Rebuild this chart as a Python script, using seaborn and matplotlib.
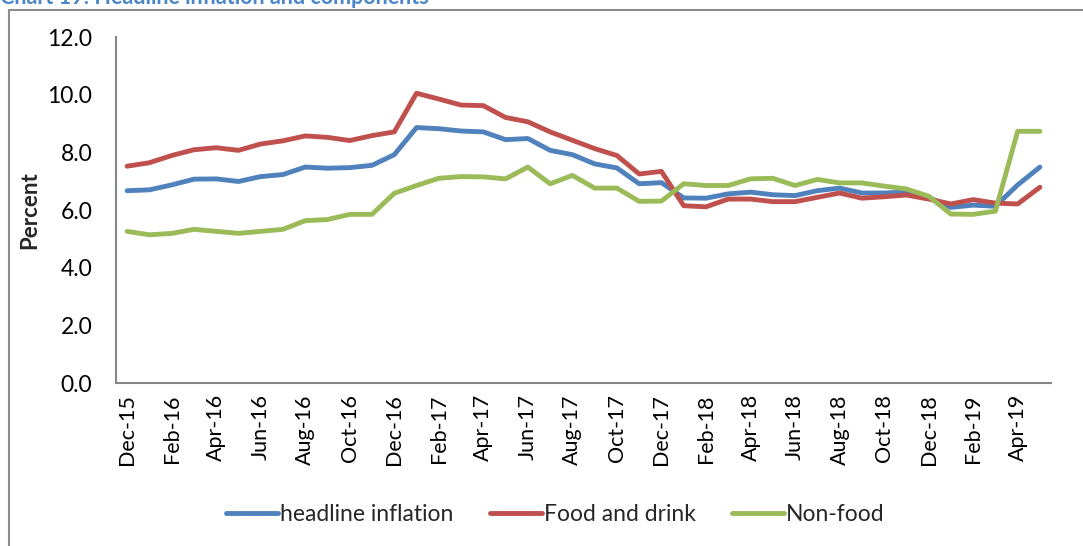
import matplotlib
matplotlib.use("Agg")
import matplotlib.pyplot as plt
import seaborn as sns
import pandas as pd
from matplotlib.patches import Rectangle

months = ["Dec-15", "Jan-16", "Feb-16", "Mar-16", "Apr-16", "May-16", "Jun-16", "Jul-16",
          "Aug-16", "Sep-16", "Oct-16", "Nov-16", "Dec-16", "Jan-17", "Feb-17", "Mar-17",
          "Apr-17", "May-17", "Jun-17", "Jul-17", "Aug-17", "Sep-17", "Oct-17", "Nov-17",
          "Dec-17", "Jan-18", "Feb-18", "Mar-18", "Apr-18", "May-18", "Jun-18", "Jul-18",
          "Aug-18", "Sep-18", "Oct-18", "Nov-18", "Dec-18", "Jan-19", "Feb-19", "Mar-19",
          "Apr-19", "May-19"]

headline = [6.67, 6.70, 6.87, 7.07, 7.08, 6.99, 7.16, 7.23, 7.49, 7.45, 7.47, 7.55,
            7.92, 8.86, 8.82, 8.74, 8.71, 8.44, 8.48, 8.07, 7.92, 7.60, 7.46, 6.91,
            6.95, 6.42, 6.41, 6.56, 6.62, 6.53, 6.50, 6.67, 6.76, 6.59, 6.59, 6.62,
            6.44, 6.09, 6.17, 6.13, 6.87, 7.49]
food = [7.52, 7.64, 7.89, 8.09, 8.16, 8.07, 8.29, 8.40, 8.57, 8.52, 8.41, 8.58,
        8.71, 10.05, 9.85, 9.64, 9.62, 9.21, 9.06, 8.71, 8.42, 8.13, 7.89, 7.25,
        7.34, 6.15, 6.11, 6.38, 6.38, 6.29, 6.29, 6.44, 6.59, 6.41, 6.46, 6.52,
        6.38, 6.21, 6.36, 6.24, 6.21, 6.79]
nonfood = [5.26, 5.14, 5.19, 5.33, 5.26, 5.19, 5.26, 5.33, 5.63, 5.67, 5.85, 5.85,
           6.58, 6.85, 7.10, 7.16, 7.15, 7.08, 7.49, 6.91, 7.20, 6.76, 6.76, 6.30,
           6.31, 6.91, 6.85, 6.85, 7.08, 7.10, 6.85, 7.06, 6.94, 6.94, 6.83, 6.73,
           6.48, 5.86, 5.85, 5.96, 8.73, 8.73]

series_names = ["headline inflation", "Food and drink", "Non-food"]
colors = ["#4F81BD", "#C0504D", "#9BBB59"]

rows = []
for name, vals in zip(series_names, [headline, food, nonfood]):
    for i, v in enumerate(vals):
        rows.append({"idx": i, "value": v, "series": name})
df = pd.DataFrame(rows)

sns.set_theme(style="white")
plt.rcParams["font.family"] = ["Lato", "DejaVu Sans"]

fig = plt.figure(figsize=(10.83, 5.46), dpi=100)
ax = fig.add_axes([0.1071, 0.2985, 0.8634, 0.6337])

sns.lineplot(data=df, x="idx", y="value", hue="series", hue_order=series_names,
             palette=colors, linewidth=3.5, ax=ax, legend=False)

ax.set_xlim(-0.5, len(months) - 0.5)
ax.set_ylim(0, 12)
ax.set_yticks([0, 2, 4, 6, 8, 10, 12])
ax.set_yticklabels([f"{v:.1f}" for v in [0, 2, 4, 6, 8, 10, 12]], fontsize=16.5)
ax.set_xticks(range(0, len(months), 2))
ax.set_xticklabels(months[::2], rotation=90, fontsize=15.5)
ax.tick_params(axis="y", length=0, pad=17, colors="black")
ax.tick_params(axis="x", length=0, pad=8, colors="black")
ax.set_xlabel("")
ax.set_ylabel("Percent", fontsize=16, fontweight="bold", labelpad=5)

for s in ["top", "right"]:
    ax.spines[s].set_visible(False)
for s in ["left", "bottom"]:
    ax.spines[s].set_color("#868686")
    ax.spines[s].set_linewidth(1.5)

handles = [plt.Line2D([0], [0], color=c, lw=3.5, solid_capstyle="round") for c in colors]
fig.legend(handles, series_names, loc="center", bbox_to_anchor=(0.513, 0.057), ncol=3,
           frameon=False, fontsize=16.5, handlelength=2.25, handletextpad=0.1,
           columnspacing=1.6)

# outer chart frame
fig.patches.append(Rectangle((8.5 / 1083, -0.1), 1.2, 1 - 10 / 546 + 0.1,
                             transform=fig.transFigure, fill=False,
                             edgecolor="#8c8c8c", linewidth=1.5))

fig.text(0.0, 1 - 4 / 546, "Chart 19: Headline inflation and components",
         color="#4A86C8", fontsize=15.5, fontweight="bold", ha="left", va="baseline")

fig.savefig("out.png", dpi=100)
